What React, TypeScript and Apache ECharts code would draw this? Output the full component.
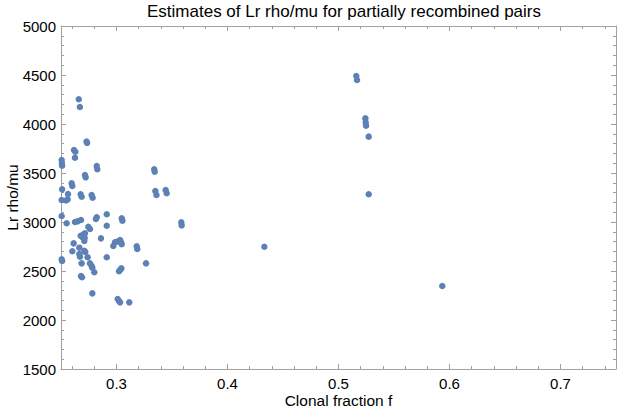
import React, { useEffect, useRef } from "react";
import * as echarts from "echarts";

const titleText = "Estimates of Lr rho/mu for partially recombined pairs";
const xTitle = "Clonal fraction f";
const yTitle = "Lr rho/mu";

const xMajorTicks = [0.3, 0.4, 0.5, 0.6, 0.7];
const xMinorTicks = [
  0.26, 0.28, 0.32, 0.34, 0.36, 0.38, 0.42, 0.44, 0.46, 0.48, 0.52, 0.54, 0.56,
  0.58, 0.62, 0.64, 0.66, 0.68, 0.72, 0.74,
];

const clonalFraction = [
  0.266, 0.267, 0.273, 0.2735, 0.2617, 0.2629, 0.2626, 0.2506, 0.2508, 0.251,
  0.2716, 0.2722, 0.2822, 0.2827, 0.334, 0.3344, 0.335, 0.336, 0.3443, 0.3452,
  0.2596, 0.2602, 0.251, 0.2563, 0.2677, 0.2686, 0.2776, 0.2785, 0.2506, 0.2545,
  0.256, 0.2506, 0.2551, 0.2626, 0.265, 0.268, 0.2815, 0.2822, 0.2912, 0.2912,
  0.3047, 0.3053, 0.3584, 0.3587, 0.2746, 0.2761, 0.2677, 0.2704, 0.2693, 0.2713,
  0.2716, 0.271, 0.286, 0.2614, 0.2665, 0.2602, 0.271, 0.2719, 0.2665, 0.2671,
  0.274, 0.2506, 0.251, 0.2686, 0.2761, 0.2776, 0.2782, 0.28, 0.268, 0.2689,
  0.2782, 0.2912, 0.2971, 0.2986, 0.3002, 0.3032, 0.3041, 0.3047, 0.3182, 0.3187,
  0.3266, 0.3032, 0.3044, 0.3023, 0.3011, 0.3023, 0.3032, 0.3115, 0.516, 0.5167,
  0.5242, 0.5245, 0.5248, 0.5272, 0.5272, 0.4332, 0.5935,
];

const rhoOverMu = [
  4252, 4173, 3820, 3808, 3735, 3717, 3656, 3633, 3599, 3575,
  3480, 3456, 3571, 3538, 3538, 3513, 3316, 3276, 3327, 3293,
  3395, 3367, 3333, 3286, 3283, 3258, 3276, 3248, 3224, 3220,
  3231, 3061, 2987, 3000, 3007, 3020, 3031, 3048, 3079, 2962,
  3038, 3014, 2997, 2966, 2952, 2929, 2860, 2875, 2845, 2838,
  2885, 2806, 2833, 2782, 2738, 2701, 2707, 2694, 2674, 2646,
  2640, 2619, 2602, 2578, 2578, 2551, 2534, 2487, 2449, 2436,
  2272, 2640, 2755, 2793, 2799, 2816, 2793, 2773, 2752, 2724,
  2578, 2510, 2527, 2497, 2214, 2194, 2180, 2180, 4490, 4449,
  4058, 4017, 3983, 3871, 3283, 2748, 2347,
];

const FONT = "'Liberation Sans', Arial, Helvetica, sans-serif";
const FRAME = "#a0a0a0";

export default function App() {
  const ref = useRef<HTMLDivElement>(null);

  useEffect(() => {
    if (!ref.current) return;
    const chart = echarts.init(ref.current, undefined, { renderer: "svg" });
    const points = clonalFraction.map((x, i) => [x, rhoOverMu[i]]);
    const baseX = {
      type: "value",
      min: 0.25,
      max: 0.75,
      gridIndex: 0,
      splitLine: { show: false },
    };
    chart.setOption({
      animation: false,
      backgroundColor: "#ffffff",
      textStyle: { fontFamily: FONT },
      title: {
        text: titleText,
        left: 339,
        textAlign: "center",
        top: -2,
        textStyle: { fontFamily: FONT, fontSize: 17, fontWeight: "normal", color: "#000" },
      },
      grid: { left: 61, right: 1, top: 26, bottom: 43, outerBoundsMode: "none" },
      xAxis: [
        {
          ...baseX,
          position: "bottom",
          axisLine: { show: true, lineStyle: { color: FRAME, width: 1 } },
          axisTick: { show: true, inside: true, length: 5, customValues: xMajorTicks, lineStyle: { color: FRAME } },
          axisLabel: {
            show: true,
            customValues: xMajorTicks,
            formatter: (v: number) => v.toFixed(1),
            fontSize: 15,
            color: "#000",
            margin: 7,
            fontFamily: FONT,
          },
          name: xTitle,
          nameLocation: "middle",
          nameGap: 23,
          nameMoveOverlap: false,
          nameTextStyle: { fontSize: 15.5, color: "#000", fontFamily: FONT },
        },
        {
          ...baseX,
          position: "bottom",
          axisLine: { show: false },
          axisTick: { show: true, inside: true, length: 3, customValues: xMinorTicks, lineStyle: { color: FRAME } },
          axisLabel: { show: false },
        },
        {
          ...baseX,
          position: "top",
          axisLine: { show: true, lineStyle: { color: FRAME, width: 1 } },
          axisTick: { show: true, inside: true, length: 5, customValues: xMajorTicks, lineStyle: { color: FRAME } },
          axisLabel: { show: false },
        },
        {
          ...baseX,
          position: "top",
          axisLine: { show: false },
          axisTick: { show: true, inside: true, length: 3, customValues: xMinorTicks, lineStyle: { color: FRAME } },
          axisLabel: { show: false },
        },
      ],
      yAxis: [
        {
          type: "value",
          min: 1500,
          max: 5000,
          interval: 500,
          position: "left",
          splitLine: { show: false },
          axisLine: { show: true, lineStyle: { color: FRAME, width: 1 } },
          axisTick: { show: true, inside: true, length: 5, lineStyle: { color: FRAME } },
          minorTick: { show: true, splitNumber: 5, length: 3, lineStyle: { color: FRAME } },
          axisLabel: {
            fontSize: 15,
            color: "#000",
            margin: 5,
            fontFamily: FONT,
            formatter: (v: number) => String(v),
          },
          name: yTitle,
          nameLocation: "middle",
          nameRotate: 90,
          nameGap: 41,
          nameMoveOverlap: false,
          nameTextStyle: { fontSize: 15.5, color: "#000", fontFamily: FONT },
        },
        {
          type: "value",
          min: 1500,
          max: 5000,
          interval: 500,
          position: "right",
          splitLine: { show: false },
          axisLine: { show: true, lineStyle: { color: FRAME, width: 1 } },
          axisTick: { show: true, inside: true, length: 5, lineStyle: { color: FRAME } },
          minorTick: { show: true, splitNumber: 5, length: 3, lineStyle: { color: FRAME } },
          axisLabel: { show: false },
        },
      ],
      series: [
        {
          type: "scatter",
          xAxisIndex: 0,
          yAxisIndex: 0,
          data: points,
          symbol: "circle",
          symbolSize: 6.5,
          itemStyle: { color: "#5E81B5", opacity: 1 },
        },
      ],
    });
    return () => chart.dispose();
  }, []);

  return (
    <div
      ref={ref}
      style={{ position: "fixed", left: 0, top: 0, width: 617, height: 412, background: "#fff" }}
    />
  );
}
